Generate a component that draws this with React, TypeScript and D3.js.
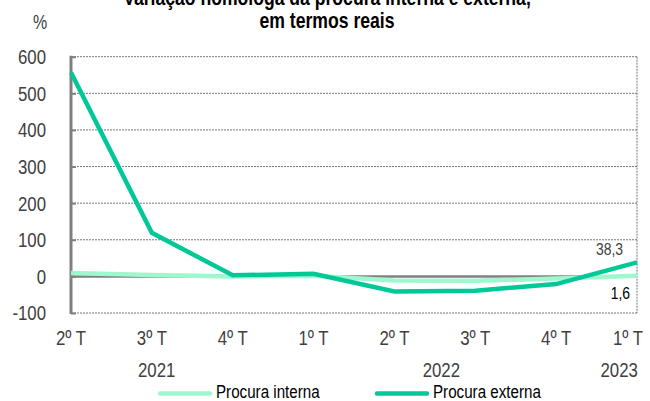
import React, { useRef, useEffect } from "react";
import * as d3 from "d3";

const quarters = ["2º T", "3º T", "4º T", "1º T", "2º T", "3º T", "4º T", "1º T"];
// year labels, positioned in category units
const years = [
  { label: "2021", at: 1.06 },
  { label: "2022", at: 4.58 },
  { label: "2023", at: 6.78 },
];
const procuraInterna = [9, 4, 0, 2, -11, -12, -6, 1.6];
const procuraExterna = [557, 119, 3, 7, -41, -39, -21, 38.3];
const yTicks = [-100, 0, 100, 200, 300, 400, 500, 600];

const FONT = "'Liberation Sans', Arial, sans-serif";
const NARROW = 0.8;
const COL_INT = "#9ff7cf";
const COL_EXT = "#00c997";

export default function App() {
  const ref = useRef<SVGSVGElement>(null);

  const layout = { width: 650, height: 401, left: 71, right: 637, top: 56.7, bottom: 313 };

  useEffect(() => {
    const svg = d3.select(ref.current);
    svg.selectAll("*").remove();

    const x = d3.scalePoint<number>()
      .domain(d3.range(quarters.length))
      .range([layout.left, layout.right]);

    const y = d3.scaleLinear()
      .domain([-100, 600])
      .range([layout.bottom, layout.top]);

    // narrow text: place at (tx, ty) and squeeze horizontally like Arial Narrow
    const narrow = (tx: number, ty: number, k = NARROW) => `translate(${tx}, ${ty}) scale(${k}, 1)`;

    // title (top line is cut by the frame, as in the original)
    const title = svg.append("text")
      .attr("transform", narrow(327, 0))
      .attr("text-anchor", "middle")
      .attr("font-family", FONT)
      .attr("font-weight", "bold")
      .attr("font-size", 22)
      .attr("fill", "#000");
    title.append("tspan").attr("x", 0).attr("y", 5).text("Variação homóloga da procura interna e externa,");
    title.append("tspan").attr("x", 0).attr("y", 28).text("em termos reais");

    svg.append("text")
      .attr("transform", narrow(40, 29))
      .attr("text-anchor", "middle")
      .attr("font-family", FONT)
      .attr("font-size", 20)
      .attr("fill", "#404040")
      .text("%");

    // grid
    svg.append("g")
      .selectAll("line")
      .data(yTicks.filter(d => d !== 0))
      .join("line")
      .attr("x1", layout.left)
      .attr("x2", layout.right)
      .attr("y1", d => y(d))
      .attr("y2", d => y(d))
      .attr("stroke", "#555")
      .attr("stroke-width", 0.8)
      .attr("stroke-dasharray", "2,1");

    svg.append("line")
      .attr("x1", layout.right).attr("x2", layout.right)
      .attr("y1", layout.top).attr("y2", layout.bottom)
      .attr("stroke", "#555")
      .attr("stroke-width", 0.8)
      .attr("stroke-dasharray", "2,1");

    // y axis
    const yAxis = svg.append("g")
      .attr("transform", `translate(${layout.left}, 0)`)
      .call(d3.axisRight(y).tickValues(yTicks).tickSize(5).tickFormat(() => ""));
    yAxis.select(".domain").remove();
    yAxis.selectAll("line").attr("stroke", "#808080").attr("stroke-width", 2);

    svg.append("line")
      .attr("x1", layout.left).attr("x2", layout.left)
      .attr("y1", layout.top - 1).attr("y2", layout.bottom + 1)
      .attr("stroke", "#808080")
      .attr("stroke-width", 3);

    svg.append("g")
      .selectAll("text")
      .data(yTicks)
      .join("text")
      .attr("transform", d => narrow(46, y(d)))
      .attr("dy", "0.35em")
      .attr("text-anchor", "end")
      .attr("font-family", FONT)
      .attr("font-size", 21)
      .attr("fill", "#404040")
      .text(d => d);

    // zero line
    svg.append("line")
      .attr("x1", layout.left).attr("x2", layout.right)
      .attr("y1", y(0)).attr("y2", y(0))
      .attr("stroke", "#808080")
      .attr("stroke-width", 2.5);

    // x labels (last one pulled in so it fits the frame)
    svg.append("g")
      .selectAll("text")
      .data(quarters)
      .join("text")
      .attr("transform", (d, i) => narrow(Math.min(x(i)!, 628), 345))
      .attr("text-anchor", "middle")
      .attr("font-family", FONT)
      .attr("font-size", 21)
      .attr("fill", "#404040")
      .text(d => d);

    svg.append("g")
      .selectAll("text")
      .data(years)
      .join("text")
      .attr("transform", d => narrow(layout.left + d.at * x.step(), 377))
      .attr("text-anchor", "middle")
      .attr("font-family", FONT)
      .attr("font-size", 21)
      .attr("fill", "#404040")
      .text(d => d.label);

    const line = d3.line<number>()
      .x((d, i) => x(i)!)
      .y(d => y(d));

    svg.append("path")
      .datum(procuraInterna)
      .attr("d", line)
      .attr("fill", "none")
      .attr("stroke", COL_INT)
      .attr("stroke-width", 4.5);

    svg.append("path")
      .datum(procuraExterna)
      .attr("d", line)
      .attr("fill", "none")
      .attr("stroke", COL_EXT)
      .attr("stroke-width", 4.5);

    // value labels
    const last = quarters.length - 1;
    svg.append("text")
      .attr("transform", narrow(x(last)! - 14, y(procuraExterna[last]) - 7, 0.82))
      .attr("text-anchor", "end")
      .attr("font-family", FONT)
      .attr("font-size", 17)
      .attr("fill", "#404040")
      .text("38,3");
    svg.append("text")
      .attr("transform", narrow(x(last)! - 7, y(procuraInterna[last]) + 23, 0.82))
      .attr("text-anchor", "end")
      .attr("font-family", FONT)
      .attr("font-size", 17)
      .attr("fill", "#000")
      .text("1,6");

    // legend
    const legend = [
      { name: "Procura interna", color: COL_INT, x: 158 },
      { name: "Procura externa", color: COL_EXT, x: 375 },
    ];
    const lg = svg.append("g")
      .selectAll("g")
      .data(legend)
      .join("g")
      .attr("transform", d => `translate(${d.x}, 393.5)`);
    lg.append("line")
      .attr("x1", 2).attr("x2", 52)
      .attr("stroke", d => d.color)
      .attr("stroke-width", 4.5)
      .attr("stroke-linecap", "round");
    lg.append("text")
      .attr("transform", narrow(58, 4.5, 0.82))
      .attr("font-family", FONT)
      .attr("font-size", 18.5)
      .attr("fill", "#000")
      .text(d => d.name);
  }, []);

  return (
    <div style={{ position: "absolute", left: 0, top: 0 }}>
      <svg ref={ref} width={layout.width} height={layout.height} style={{ display: "block", background: "#fff" }} />
    </div>
  );
}
